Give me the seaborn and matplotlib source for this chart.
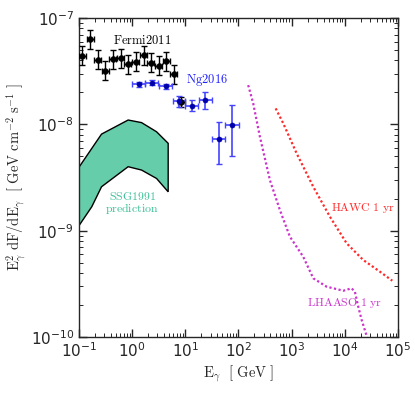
import numpy as np
import matplotlib
matplotlib.use('Agg')
import matplotlib.pyplot as plt
import seaborn as sns

# Fermi2011 points
fermi_e = [0.115, 0.163, 0.227, 0.312, 0.436, 0.608, 0.835, 1.18, 1.65, 2.26, 3.15, 4.39, 6.12, 8.5]
fermi_f = [4.42e-8, 6.31e-8, 4.06e-8, 3.19e-8, 4.09e-8, 4.18e-8, 3.67e-8, 3.88e-8, 4.49e-8,
           3.80e-8, 3.56e-8, 3.94e-8, 2.97e-8, 1.62e-8]
fermi_dy = [0.09, 0.09, 0.09, 0.09, 0.09, 0.09, 0.09, 0.09, 0.09, 0.09, 0.09, 0.09, 0.09, 0.05]  # dex
fermi_dx = 0.066  # dex

# Ng2016 points
ng_e = [1.33, 2.36, 4.27, 7.61, 13.3, 23.7, 42.4, 75.4]
ng_f = [2.38e-8, 2.48e-8, 2.28e-8, 1.65e-8, 1.50e-8, 1.68e-8, 7.23e-9, 9.8e-9]
ng_dy_hi = [0.02, 0.02, 0.02, 0.05, 0.05, 0.08, 0.166, 0.19]
ng_dy_lo = [0.02, 0.02, 0.02, 0.05, 0.05, 0.08, 0.232, 0.29]
ng_dx = [0.12, 0.12, 0.12, 0.12, 0.12, 0.12, 0.125, 0.13]

# SSG1991 prediction band
ssg_up_e = [0.1, 0.267, 0.845, 1.51, 2.89, 4.78]
ssg_up_f = [3.94e-9, 8.11e-9, 1.10e-8, 1.04e-8, 8.53e-9, 6.64e-9]
ssg_lo_e = [0.1, 0.175, 0.267, 0.845, 1.51, 2.89, 4.78]
ssg_lo_f = [1.11e-9, 1.68e-9, 2.59e-9, 4.0e-9, 3.72e-9, 3.1e-9, 2.32e-9]

# HAWC 1 yr sensitivity
hawc_loge = [2.700, 2.843, 3.094, 3.407, 3.721, 4.035, 4.347, 4.661, 4.893]
hawc_logf = [-7.849, -7.990, -8.272, -8.587, -8.869, -9.119, -9.276, -9.386, -9.471]

# LHAASO 1 yr sensitivity
lhaaso_loge = [2.184, 2.278, 2.404, 2.592, 2.780, 2.968, 3.218, 3.407, 3.658, 3.971,
               4.129, 4.191, 4.253, 4.317, 4.43]
lhaaso_logf = [-7.630, -7.802, -8.116, -8.524, -8.806, -9.057, -9.245, -9.448, -9.527, -9.565,
               -9.542, -9.577, -9.715, -9.840, -10.02]

sns.set_style("ticks")
plt.rcParams['mathtext.fontset'] = 'cm'
plt.rcParams['font.family'] = ['DejaVu Sans']

fig = plt.figure(figsize=(4.15, 3.95), dpi=100)
ax = fig.add_axes([0.190, 0.147, 0.769, 0.807])

teal = '#66cdaa'

# band
band_x = ssg_up_e + ssg_lo_e[::-1]
band_y = ssg_up_f + ssg_lo_f[::-1]
ax.fill(band_x, band_y, facecolor=teal, edgecolor='black', lw=1, zorder=2)

# sensitivity curves
sns.lineplot(x=10 ** np.array(hawc_loge), y=10 ** np.array(hawc_logf), ax=ax,
             color='#ff2a2a', lw=1.6, linestyle=(0, (1, 1.1)), sort=False)
sns.lineplot(x=10 ** np.array(lhaaso_loge), y=10 ** np.array(lhaaso_logf), ax=ax,
             color='#cc33cc', lw=1.6, linestyle=(0, (1, 1.1)), sort=False)

# Fermi points
fe = np.array(fermi_e); ff = np.array(fermi_f); fdy = np.array(fermi_dy)
ax.errorbar(fe, ff,
            yerr=[ff - ff * 10 ** -fdy, ff * 10 ** fdy - ff],
            xerr=[fe - fe * 10 ** -fermi_dx, fe * 10 ** fermi_dx - fe],
            fmt='none', ecolor='black', elinewidth=1, capsize=2.5, capthick=1, zorder=4)
sns.scatterplot(x=fermi_e, y=fermi_f, ax=ax, color='black', marker='o', s=18,
                edgecolor='black', zorder=5)

# Ng points
ne = np.array(ng_e); nf = np.array(ng_f)
ax.errorbar(ne, nf,
            yerr=[nf - nf * 10 ** -np.array(ng_dy_lo), nf * 10 ** np.array(ng_dy_hi) - nf],
            xerr=[ne - ne * 10 ** -np.array(ng_dx), ne * 10 ** np.array(ng_dx) - ne],
            fmt='none', ecolor='#4444ff', elinewidth=1.2, capsize=2.5, capthick=1, zorder=4)
sns.scatterplot(x=ng_e, y=ng_f, ax=ax, color='#0000aa', marker='o', s=14,
                edgecolor='#0000aa', zorder=5)

ax.set_xscale('log')
ax.set_yscale('log')
ax.set_xlim(0.1, 1e5)
ax.set_ylim(1e-10, 1e-7)

ax.tick_params(which='both', direction='in', top=True, right=True, labelsize=11)
ax.tick_params(which='major', length=6, width=1)
ax.tick_params(which='minor', length=3, width=0.7)
for s in ax.spines.values():
    s.set_linewidth(1)

ax.set_xlabel(r'$\mathrm{E_\gamma\ \ [\ GeV\ ]}$', fontsize=10.5, labelpad=2)
ax.set_ylabel(r'$\mathrm{E^2_\gamma\ dF/dE_\gamma\ \ [\ GeV\ cm^{-2}\ s^{-1}\ ]}$',
              fontsize=10.5, labelpad=2)

# annotations
ax.text(1.55, 6.1e-8, r'$\mathrm{Fermi2011}$', fontsize=9, color='black', ha='center', va='center')
ax.text(26, 2.6e-8, r'$\mathrm{Ng2016}$', fontsize=9, color='#2222ff', ha='center', va='center')
ax.text(1.0, 2.1e-9, r'$\mathrm{SSG1991}$', fontsize=8.5, color='#3cbf98', ha='center', va='center')
ax.text(1.0, 1.6e-9, r'$\mathrm{prediction}$', fontsize=8.5, color='#3cbf98', ha='center', va='center')
ax.text(2.2e4, 1.63e-9, r'$\mathrm{HAWC\ 1\ yr}$', fontsize=8.5, color='#ff2a2a', ha='center', va='center')
ax.text(1.0e4, 2.1e-10, r'$\mathrm{LHAASO\ 1\ yr}$', fontsize=8.5, color='#cc33cc', ha='center', va='center')

plt.savefig('out.png', dpi=100)
